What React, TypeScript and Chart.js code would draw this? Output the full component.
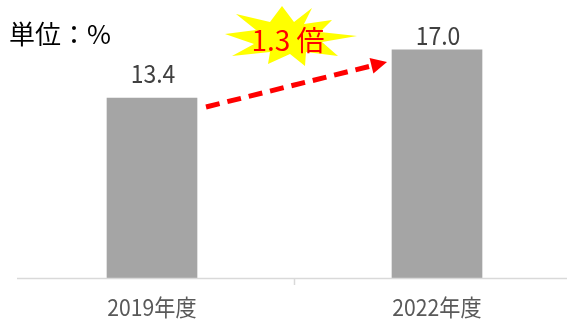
import React, { useEffect, useRef } from "react";
import { Chart, registerables } from "chart.js";

Chart.register(...registerables);

const categories: string[] = ["2019年度", "2022年度"];
const values: number[] = [13.4, 17.0];
const valueLabels: string[] = ["13.4", "17.0"];
const unitLabel = "単位：%";
const ratioLabel = "1.3 倍";

const FONT = '"Noto Sans CJK JP", "Noto Sans", sans-serif';

function scaledText(ctx: CanvasRenderingContext2D, text: string, x: number, y: number, sx: number) {
  ctx.save();
  ctx.translate(x, y);
  ctx.scale(sx, 1);
  ctx.fillText(text, 0, 0);
  ctx.restore();
}

const overlayPlugin = {
  id: "overlay",
  afterDatasetsDraw(chart: any) {
    const ctx: CanvasRenderingContext2D = chart.ctx;
    const xs = chart.scales.x;
    const ys = chart.scales.y;
    const base = ys.getPixelForValue(0);
    ctx.save();
    // baseline
    ctx.strokeStyle = "#d9d9d9";
    ctx.lineWidth = 1.5;
    ctx.beginPath();
    ctx.moveTo(17, base + 0.5);
    ctx.lineTo(567, base + 0.5);
    ctx.stroke();
    // middle tick
    const mid = (xs.getPixelForValue(0) + xs.getPixelForValue(1)) / 2;
    ctx.beginPath();
    ctx.moveTo(mid, base);
    ctx.lineTo(mid, base + 7);
    ctx.stroke();

    // category labels
    ctx.fillStyle = "#595959";
    ctx.font = `23px ${FONT}`;
    ctx.textAlign = "center";
    ctx.textBaseline = "middle";
    categories.forEach((c, i) => {
      scaledText(ctx, c, xs.getPixelForValue(i), 307, 0.92);
    });

    // value labels
    const offs = [15, 5];
    ctx.fillStyle = "#404040";
    ctx.font = `25px ${FONT}`;
    ctx.textBaseline = "alphabetic";
    values.forEach((v, i) => {
      const x = xs.getPixelForValue(i) + 1;
      const y = ys.getPixelForValue(v) - offs[i];
      scaledText(ctx, valueLabels[i], x, y, 0.92);
    });

    // unit label
    ctx.fillStyle = "#000000";
    ctx.textAlign = "left";
    ctx.font = `26px ${FONT}`;
    ctx.fillText(unitLabel, 9, 44);

    // dashed arrow
    const x0 = 206, y0 = 107, x1 = 387, y1 = 62;
    const ang = Math.atan2(y1 - y0, x1 - x0);
    const headLen = 16;
    const lx = x1 - Math.cos(ang) * (headLen - 2);
    const ly = y1 - Math.sin(ang) * (headLen - 2);
    ctx.strokeStyle = "#ff0000";
    ctx.lineWidth = 5;
    ctx.setLineDash([14, 8]);
    ctx.beginPath();
    ctx.moveTo(x0, y0);
    ctx.lineTo(lx, ly);
    ctx.stroke();
    ctx.setLineDash([]);
    ctx.fillStyle = "#ff0000";
    ctx.beginPath();
    ctx.moveTo(x1, y1);
    ctx.lineTo(x1 - headLen * Math.cos(ang) + 8 * Math.sin(ang), y1 - headLen * Math.sin(ang) - 8 * Math.cos(ang));
    ctx.lineTo(x1 - headLen * Math.cos(ang) - 8 * Math.sin(ang), y1 - headLen * Math.sin(ang) + 8 * Math.cos(ang));
    ctx.closePath();
    ctx.fill();

    // starburst
    const cx = 291, cy = 38;
    const pts: [number, number][] = [
      [312, 8], [304, 24], [332, 20], [320, 32], [357, 36], [322, 42],
      [338, 56], [306, 52], [305, 66], [290, 54], [268, 64], [270, 52],
      [232, 56], [254, 44], [225, 34], [256, 30], [236, 14], [270, 22], [282, 6], [294, 22],
    ];
    ctx.fillStyle = "#ffff00";
    ctx.beginPath();
    pts.forEach(([px, py], i) => (i === 0 ? ctx.moveTo(px, py) : ctx.lineTo(px, py)));
    ctx.closePath();
    ctx.fill();

    ctx.fillStyle = "#ff0000";
    ctx.font = `28px ${FONT}`;
    ctx.textAlign = "center";
    ctx.textBaseline = "middle";
    ctx.fillText(ratioLabel, cx - 3, cy + 2);
    ctx.restore();
  },
};

export default function App() {
  const ref = useRef<HTMLCanvasElement>(null);
  useEffect(() => {
    if (!ref.current) return;
    const chart = new Chart(ref.current, {
      type: "bar",
      data: {
        labels: categories,
        datasets: [
          {
            data: values,
            backgroundColor: "#a5a5a5",
            borderWidth: 0,
            barThickness: 90,
          },
        ],
      },
      options: {
        responsive: false,
        animation: false,
        events: [],
        layout: { padding: { left: 9.5, right: 0.5, top: 9.6, bottom: 42 } },
        plugins: { legend: { display: false }, tooltip: { enabled: false } },
        scales: {
          x: { display: false },
          y: { display: false, min: 0, max: 20 },
        },
      },
      plugins: [overlayPlugin],
    });
    return () => chart.destroy();
  }, []);
  return (
    <div style={{ position: "fixed", left: 0, top: 0, width: 567, height: 320, overflow: "hidden", background: "#fff" }}>
      <canvas ref={ref} width={580} height={320} style={{ display: "block" }} />
    </div>
  );
}
